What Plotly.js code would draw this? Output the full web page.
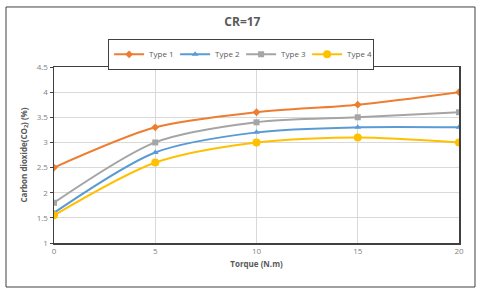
<!DOCTYPE html>
<html><head><meta charset="utf-8">
<script src="https://cdn.plot.ly/plotly-3.0.1.min.js"></script>
<style>html,body{margin:0;padding:0;background:#fff}#chart{width:480px;height:293px}</style>
</head><body><div id="chart"></div>
<script>
const torque = [0, 5, 10, 15, 20];
const type1 = [2.5, 3.3, 3.6, 3.75, 4.0];
const type2 = [1.6, 2.8, 3.2, 3.3, 3.3];
const type3 = [1.8, 3.0, 3.4, 3.5, 3.6];
const type4 = [1.55, 2.6, 3.0, 3.1, 3.0];
const names = ['Type 1', 'Type 2', 'Type 3', 'Type 4'];
const series = [type1, type2, type3, type4];
const colors = ['#ED7D31', '#5B9BD5', '#A5A5A5', '#FFC000'];
const symbols = ['diamond', 'triangle-up', 'square', 'circle'];
const sizes = [6, 6, 6, 8];

const traces = series.map((s, i) => ({
  x: torque, y: s, name: names[i], type: 'scatter', mode: 'lines+markers',
  line: {color: colors[i], width: 2, shape: 'spline', smoothing: 0.8},
  marker: {symbol: symbols[i], size: sizes[i], color: colors[i]}
}));

const layout = {
  width: 480, height: 293,
  margin: {l: 54, r: 21, t: 67, b: 50},
  paper_bgcolor: '#fff', plot_bgcolor: '#fff',
  font: {family: 'Open Sans, Liberation Sans, sans-serif', color: '#595959'},
  title: {text: '<b>CR=17</b>', font: {size: 12, color: '#595959'}, x: 0.505, xanchor: 'center', y: 0.925, yanchor: 'middle'},
  showlegend: true,
  legend: {orientation: 'h', x: 0.462, xanchor: 'center', y: 1.16, yanchor: 'top',
    bordercolor: '#404040', borderwidth: 1, font: {size: 8, color: '#595959'},
    itemwidth: 30, entrywidth: 21, entrywidthmode: 'pixels', tracegroupgap: 0},
  xaxis: {range: [0, 20], tickvals: torque, ticks: '', showgrid: true, gridcolor: '#D9D9D9',
    showline: true, linecolor: '#404040', linewidth: 1.5, mirror: true, zeroline: false,
    tickfont: {size: 8, color: '#7f7f7f'},
    title: {text: '<b>Torque (N.m)</b>', font: {size: 8, color: '#595959'}, standoff: 6}},
  yaxis: {range: [1, 4.5], dtick: 0.5, ticks: 'outside', ticklen: 3, tickcolor: '#404040',
    showgrid: true, gridcolor: '#D9D9D9', showline: true, linecolor: '#404040', linewidth: 1.5,
    mirror: true, zeroline: false, tickfont: {size: 8, color: '#7f7f7f'},
    title: {text: '<b>Carbon dioxide(CO<sub>2</sub>) (%)</b>', font: {size: 8, color: '#595959'}, standoff: 8}},
  shapes: [{type: 'rect', xref: 'paper', yref: 'paper', x0: -0.1185, x1: 1.0395, y0: -0.25, y1: 1.341,
    line: {color: '#404040', width: 1}, fillcolor: 'rgba(0,0,0,0)', layer: 'below'}]
};
Plotly.newPlot('chart', traces, layout, {displayModeBar: false, staticPlot: true});
</script></body></html>
